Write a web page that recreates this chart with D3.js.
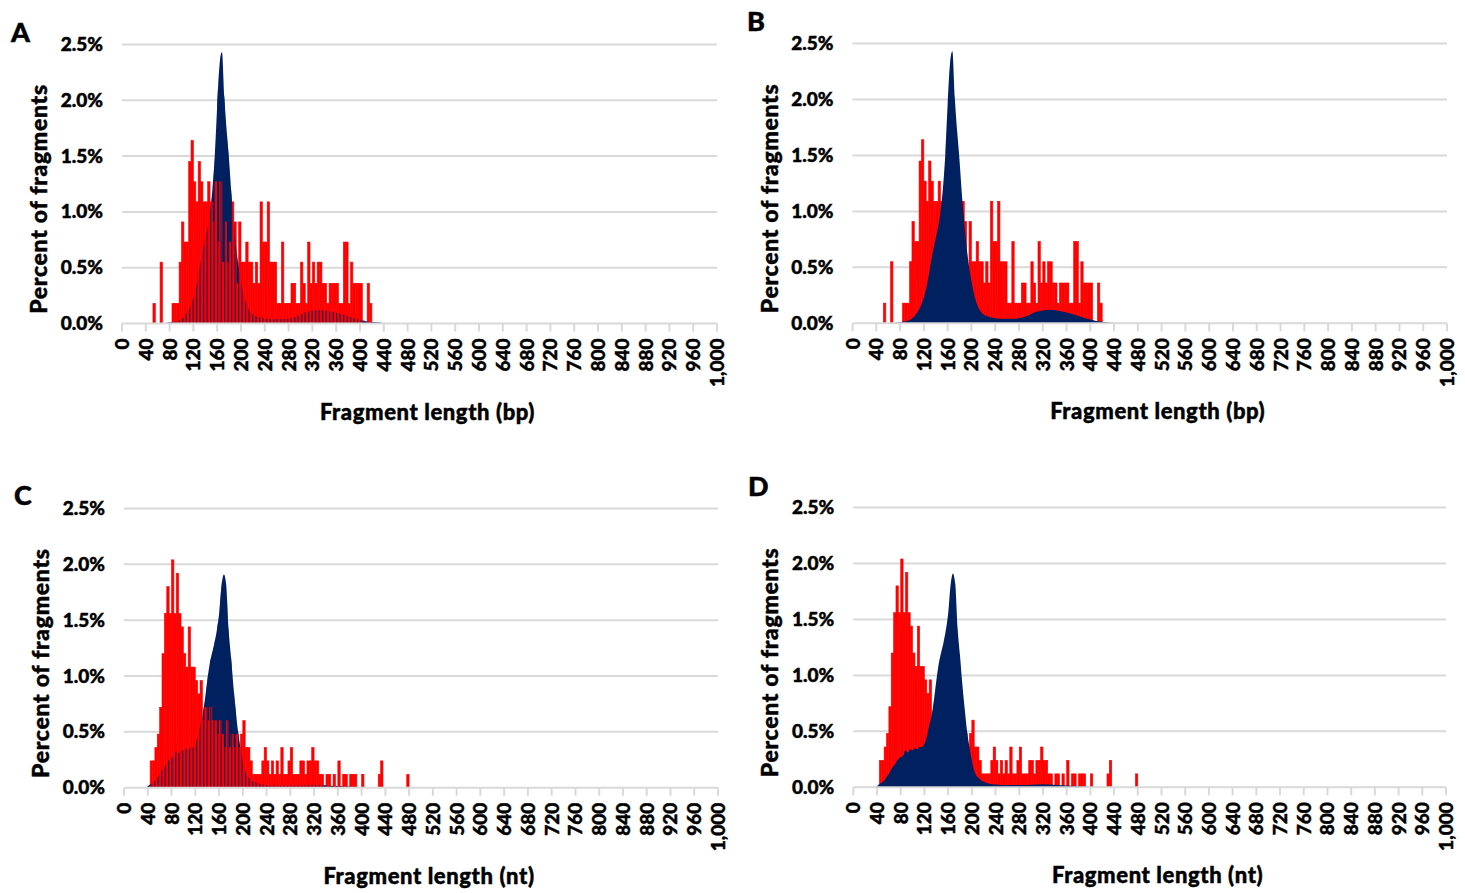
<!DOCTYPE html>
<html>
<head>
<meta charset="utf-8">
<script src="https://cdn.jsdelivr.net/npm/d3@7"></script>
<style>
  body { margin: 0; background: #fff; }
  text { font-family: Lato, "Open Sans", sans-serif; font-weight: 900; fill: #000; stroke: #000; stroke-width: 0.45px; }
</style>
</head>
<body>
<svg id="chart" width="1465" height="893"></svg>
<script>
// tick values / labels
var xTicks = [0, 40, 80, 120, 160, 200, 240, 280, 320, 360, 400, 440, 480, 520, 560, 600, 640, 680, 720, 760, 800, 840, 880, 920, 960, 1000];
var yTicks = [0, 0.5, 1.0, 1.5, 2.0, 2.5];
var yTickLabels = ["0.0%", "0.5%", "1.0%", "1.5%", "2.0%", "2.5%"];

// red series, 4 bp bins: [bin start, percent]  (panels A and B)
var redBp = [[52,0.18],[64,0.55],[84,0.18],[88,0.18],[92,0.18],[96,0.55],[100,0.91],[104,0.73],[108,0.73],
  [112,1.45],[116,1.64],[120,1.27],[124,1.09],[128,1.45],[132,1.27],[136,1.09],[140,1.09],[144,1.27],
  [148,1.09],[152,0.91],[156,1.27],[160,0.73],[164,1.27],[168,0.55],[172,0.91],[176,0.55],[180,0.73],
  [184,1.09],[188,0.91],[192,0.36],[196,0.91],[200,0.55],[204,0.55],[208,0.73],[212,0.55],[216,0.55],
  [220,0.36],[224,0.55],[228,0.36],[232,1.09],[236,0.73],[240,0.73],[244,1.09],[248,0.55],[252,0.55],
  [256,0.55],[260,0.18],[264,0.18],[268,0.73],[272,0.18],[276,0.18],[280,0.18],[284,0.36],[288,0.36],
  [292,0.18],[296,0.18],[300,0.55],[304,0.36],[308,0.18],[312,0.73],[316,0.36],[320,0.55],[324,0.36],
  [328,0.55],[332,0.55],[336,0.36],[340,0.36],[344,0.18],[348,0.36],[352,0.36],[356,0.36],[360,0.36],
  [364,0.18],[368,0.18],[372,0.73],[376,0.73],[380,0.18],[384,0.55],[388,0.36],[392,0.36],[396,0.36],
  [400,0.36],[412,0.36],[416,0.18]];

// navy series: [length, percent]  (panels A and B)
var navyBp = [[64,0],[72,0.005],[80,0.01],[88,0.015],[96,0.03],[104,0.06],[108,0.09],[112,0.12],[116,0.17],
  [120,0.23],[124,0.31],[128,0.42],[132,0.55],[136,0.66],[140,0.76],[144,0.86],[148,1.0],[152,1.2],
  [156,1.5],[160,1.95],[164,2.32],[168,2.43],[172,2.02],[176,1.72],[180,1.46],[184,1.15],[188,0.9],
  [192,0.68],[196,0.51],[200,0.38],[204,0.27],[208,0.19],[212,0.14],[216,0.1],[220,0.08],[228,0.06],
  [236,0.05],[248,0.04],[260,0.04],[272,0.04],[284,0.05],[296,0.07],[308,0.1],[320,0.115],[332,0.12],
  [344,0.115],[356,0.1],[368,0.085],[380,0.065],[392,0.045],[404,0.03],[416,0.015],[432,0.008],[448,0]];

// red series (panels C and D)
var redNt = [[44,0.24],[48,0.24],[52,0.36],[56,0.48],[60,0.72],[64,1.20],[68,1.56],[72,1.80],[76,1.56],
  [80,2.04],[84,1.56],[88,1.92],[92,1.56],[96,1.44],[100,1.20],[104,1.08],[108,1.44],[112,1.08],
  [116,1.08],[120,0.96],[124,0.84],[128,0.96],[132,0.60],[136,0.72],[140,0.60],[144,0.72],[148,0.60],
  [152,0.60],[156,0.48],[160,0.60],[164,0.48],[168,0.36],[172,0.60],[176,0.36],[180,0.48],[184,0.36],
  [188,0.48],[192,0.36],[196,0.48],[200,0.60],[204,0.36],[208,0.36],[212,0.24],[216,0.12],[220,0.12],
  [224,0.12],[228,0.12],[232,0.24],[236,0.36],[240,0.24],[244,0.12],[248,0.24],[252,0.12],[256,0.24],
  [260,0.12],[264,0.36],[268,0.12],[272,0.12],[276,0.24],[280,0.36],[284,0.12],[288,0.12],[292,0.12],
  [296,0.24],[300,0.24],[304,0.12],[308,0.24],[312,0.24],[316,0.36],[320,0.24],[324,0.24],[328,0.12],
  [332,0.12],[340,0.12],[344,0.12],[352,0.12],[360,0.24],[368,0.12],[372,0.12],[380,0.12],[384,0.12],
  [388,0.12],[400,0.12],[428,0.12],[432,0.24],[476,0.12]];

// navy series (panels C and D)
var navyNt = [[36,0],[40,0.01],[44,0.03],[48,0.04],[52,0.06],[56,0.09],[60,0.12],[64,0.16],[68,0.19],
  [72,0.22],[76,0.25],[80,0.27],[84,0.28],[88,0.33],[92,0.31],[96,0.34],[100,0.33],[104,0.35],[108,0.34],
  [112,0.36],[116,0.36],[120,0.39],[124,0.45],[128,0.55],[132,0.64],[136,0.78],[140,0.95],[144,1.1],
  [148,1.2],[152,1.29],[156,1.4],[160,1.55],[164,1.8],[168,1.91],[172,1.82],[176,1.42],[180,1.18],
  [184,0.92],[188,0.7],[192,0.5],[196,0.36],[200,0.24],[204,0.15],[208,0.1],[212,0.08],[216,0.06],
  [220,0.05],[228,0.035],[240,0.025],[260,0.02],[280,0.02],[300,0.022],[320,0.027],[340,0.022],
  [360,0.015],[380,0.01],[400,0.004],[420,0]];

var binW = 4;
var RED = "#ff0000", NAVY = "#002060", GRID = "#d9d9d9";

var panels = [
  {letter: "A", lx: 11, ly: 42, x0: 122, x1: 717, yTop: 44.5, yBase: 323.5, red: redBp, navy: navyBp, navyOnTop: false, unit: "bp"},
  {letter: "B", lx: 747, ly: 31, x0: 852.5, x1: 1447, yTop: 43.5, yBase: 323.3, red: redBp, navy: navyBp, navyOnTop: true, unit: "bp"},
  {letter: "C", lx: 14, ly: 505, x0: 124, x1: 718, yTop: 508.5, yBase: 787.7, red: redNt, navy: navyNt, navyOnTop: false, unit: "nt"},
  {letter: "D", lx: 748, ly: 496, x0: 853.3, x1: 1446, yTop: 507.5, yBase: 787.3, red: redNt, navy: navyNt, navyOnTop: true, unit: "nt"}
];

var svg = d3.select("#chart");
var fmt = d3.format(",");

// 縞模様 (clustered columns showing through)
svg.append("defs")
  .append("pattern")
  .attr("id", "stripes")
  .attr("patternUnits", "userSpaceOnUse")
  .attr("width", 3.5).attr("height", 10)
  .append("rect")
  .attr("width", 1.2).attr("height", 10)
  .attr("fill", NAVY).attr("fill-opacity", 0.85);

panels.forEach(function(p) {
  var x = d3.scaleLinear().domain([0, 1000]).range([p.x0, p.x1]);
  var y = d3.scaleLinear().domain([0, 2.5]).range([p.yBase, p.yTop]);
  var g = svg.append("g");

  //グリッド
  g.selectAll("line.grid")
    .data(yTicks.slice(1))
    .enter()
    .append("line")
    .attr("x1", p.x0).attr("x2", p.x1)
    .attr("y1", function(d) { return y(d); })
    .attr("y2", function(d) { return y(d); })
    .attr("stroke", GRID).attr("stroke-width", 2);

  // series
  var area = d3.area()
    .x(function(d) { return x(d[0]); })
    .y0(y(0))
    .y1(function(d) { return y(d[1]); })
    .curve(d3.curveMonotoneX);

  function drawNavy(fill) {
    g.append("path").datum(p.navy)
      .attr("d", area)
      .attr("fill", fill);
  }
  function drawRed() {
    g.selectAll("rect.red")
      .data(p.red)
      .enter()
      .append("rect")
      .attr("class", "red")
      .attr("x", function(d) { return x(d[0]); })
      .attr("width", function(d) { return x(d[0] + binW) - x(d[0]); })
      .attr("y", function(d) { return y(d[1]); })
      .attr("height", function(d) { return y(0) - y(d[1]); })
      .attr("fill", RED)
      .attr("stroke", RED)
      .attr("stroke-width", 0.6);
  }
  if (p.navyOnTop) {
    drawRed(); drawNavy(NAVY);
  } else {
    drawNavy(NAVY); drawRed(); drawNavy("url(#stripes)");
  }

  // x軸
  g.append("line")
    .attr("x1", p.x0).attr("x2", p.x1)
    .attr("y1", p.yBase).attr("y2", p.yBase)
    .attr("stroke", GRID).attr("stroke-width", 2);
  g.selectAll("line.tick")
    .data(xTicks)
    .enter()
    .append("line")
    .attr("x1", function(d) { return x(d); })
    .attr("x2", function(d) { return x(d); })
    .attr("y1", p.yBase).attr("y2", p.yBase + 8)
    .attr("stroke", GRID).attr("stroke-width", 2);
  g.selectAll("text.xt")
    .data(xTicks)
    .enter()
    .append("text")
    .text(function(d) { return fmt(d); })
    .attr("transform", function(d) {
      return "translate(" + (x(d) + 7) + "," + (p.yBase + 15) + ") rotate(-90)";
    })
    .attr("text-anchor", "end")
    .style("font-size", "19px");

  // y軸ラベル
  g.selectAll("text.yt")
    .data(yTicks)
    .enter()
    .append("text")
    .text(function(d, i) { return yTickLabels[i]; })
    .attr("x", p.x0 - 19)
    .attr("y", function(d) { return y(d) + 6.5; })
    .attr("text-anchor", "end")
    .style("font-size", "19px");

  // titles
  g.append("text")
    .text("Percent of fragments")
    .attr("transform", "translate(" + (p.x0 - 75) + "," + ((p.yTop + p.yBase) / 2 + 15) + ") rotate(-90)")
    .attr("text-anchor", "middle")
    .style("font-size", "23px")
    .style("letter-spacing", "0.7px");
  g.append("text")
    .text("Fragment length (" + p.unit + ")")
    .attr("x", (p.x0 + p.x1) / 2 + 8)
    .attr("y", p.yBase + 96)
    .attr("text-anchor", "middle")
    .style("font-size", "22px")
    .style("letter-spacing", "0.6px");
  g.append("text")
    .text(p.letter)
    .attr("x", p.lx).attr("y", p.ly)
    .style("font-size", "27px");
});
</script>
</body>
</html>
